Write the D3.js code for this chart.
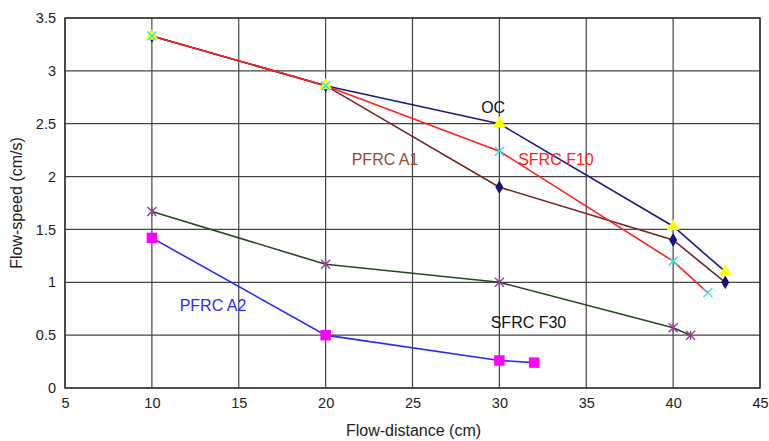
<!DOCTYPE html>
<html>
<head>
<meta charset="utf-8">
<script src="https://cdn.jsdelivr.net/npm/d3@7"></script>
<style>
  body { margin: 0; background: #fff; }
  text { font-family: "Liberation Sans", Arial, sans-serif; }
</style>
</head>
<body>
<div id="chart-area"></div>
<script>
// data
let xTicks = [5, 10, 15, 20, 25, 30, 35, 40, 45];
let yTicks = [0, 0.5, 1, 1.5, 2, 2.5, 3, 3.5];

let ocX = [10, 20, 30, 40, 43];
let ocY = [3.33, 2.86, 2.5, 1.53, 1.1];

let a1X = [10, 20, 30, 40, 43];
let a1Y = [3.33, 2.86, 1.9, 1.4, 1.0];

let f10X = [10, 20, 30, 40, 42];
let f10Y = [3.33, 2.86, 2.24, 1.2, 0.9];

let f30X = [10, 20, 30, 40, 41];
let f30Y = [1.67, 1.17, 1.0, 0.57, 0.5];

let a2X = [10, 20, 30, 32];
let a2Y = [1.42, 0.5, 0.26, 0.24];

let margin = { left: 65, right: 9, top: 18, bottom: 53 };
let width = 769 - margin.left - margin.right,
    height = 441 - margin.top - margin.bottom;

let svg = d3.select("#chart-area")
    .append("svg")
    .attr("width", 769)
    .attr("height", 441);

let g = svg.append("g")
    .attr("transform", "translate(" + margin.left + "," + margin.top + ")");

let x = d3.scaleLinear().domain([5, 45]).range([0, width]);
let y = d3.scaleLinear().domain([0, 3.5]).range([height, 0]);

// grid
g.selectAll(".vgrid").data(xTicks).enter()
    .append("line")
    .attr("x1", d => x(d)).attr("x2", d => x(d))
    .attr("y1", 0).attr("y2", height)
    .attr("stroke", "#444").attr("stroke-width", 1.2);

g.selectAll(".hgrid").data(yTicks).enter()
    .append("line")
    .attr("x1", 0).attr("x2", width)
    .attr("y1", d => y(d)).attr("y2", d => y(d))
    .attr("stroke", "#444").attr("stroke-width", 1.2);

g.append("rect")
    .attr("width", width).attr("height", height)
    .attr("fill", "none").attr("stroke", "#333").attr("stroke-width", 1.5);

// axes
let xAxisCall = d3.axisBottom(x).tickValues(xTicks).tickSize(0).tickPadding(10);
g.append("g")
    .attr("transform", "translate(0," + height + ")")
    .call(xAxisCall)
    .call(a => a.select(".domain").remove())
    .selectAll("text")
        .attr("font-size", "14.5px")
        .attr("fill", "#222");

let yAxisCall = d3.axisLeft(y).tickValues(yTicks).tickSize(0).tickPadding(9)
    .tickFormat(d => d);
g.append("g")
    .call(yAxisCall)
    .call(a => a.select(".domain").remove())
    .selectAll("text")
        .attr("font-size", "14.5px")
        .attr("fill", "#222");

// axis titles
g.append("text")
    .attr("x", width / 2 + 1)
    .attr("y", height + 48)
    .attr("text-anchor", "middle")
    .attr("font-size", "16px")
    .attr("fill", "#222")
    .text("Flow-distance (cm)");

g.append("text")
    .attr("transform", "rotate(-90)")
    .attr("x", -(height / 2))
    .attr("y", -43)
    .attr("text-anchor", "middle")
    .attr("font-size", "16px")
    .attr("fill", "#222")
    .text("Flow-speed (cm/s)");

function pts(xs, ys) {
    return xs.map((v, i) => ({ x: v, y: ys[i] }));
}

let line = d3.line().x(d => x(d.x)).y(d => y(d.y));

function drawLine(data, color) {
    g.append("path")
        .datum(data)
        .attr("fill", "none")
        .attr("stroke", color)
        .attr("stroke-width", 1.6)
        .attr("d", line);
}

let ocData = pts(ocX, ocY),
    a1Data = pts(a1X, a1Y),
    f10Data = pts(f10X, f10Y),
    f30Data = pts(f30X, f30Y),
    a2Data = pts(a2X, a2Y);

drawLine(ocData, "#1c1c84");
drawLine(a1Data, "#7a2222");
drawLine(f10Data, "#ff2020");
drawLine(f30Data, "#234a1e");
drawLine(a2Data, "#2a2aff");

// markers
function drawMarkers(data, type, color, size) {
    g.selectAll(null).data(data).enter()
        .append("path")
        .attr("transform", d => "translate(" + x(d.x) + "," + y(d.y) + ")")
        .attr("d", d3.symbol().type(type).size(size))
        .attr("fill", color);
}

function drawCross(data, color, r, star) {
    let gg = g.selectAll(null).data(data).enter()
        .append("g")
        .attr("transform", d => "translate(" + x(d.x) + "," + y(d.y) + ")");
    gg.append("path")
        .attr("d", "M" + (-r) + "," + (-r) + "L" + r + "," + r + "M" + (-r) + "," + r + "L" + r + "," + (-r) +
            (star ? "M0," + (-r) + "L0," + r : ""))
        .attr("stroke", color)
        .attr("stroke-width", 1.4)
        .attr("fill", "none");
}

drawMarkers(a1Data, d3.symbolDiamond, "#12127a", 55);
drawMarkers(a2Data, d3.symbolSquare, "#ff00ff", 110);
drawMarkers(ocData, d3.symbolTriangle, "#ffff00", 70);
drawCross(f10Data, "#33e6e6", 4.5, false);
drawCross(f30Data, "#9a3a9a", 4.5, true);

// labels
let labels = [
    { t: "OC", x: 28.95, y: 2.6, c: "#111" },
    { t: "SFRC F10", x: 31.08, y: 2.11, c: "#ff2020" },
    { t: "PFRC A1", x: 21.5, y: 2.11, c: "#9a4a2a" },
    { t: "PFRC A2", x: 11.6, y: 0.73, c: "#2a2aff" },
    { t: "SFRC F30", x: 29.5, y: 0.57, c: "#111" }
];

g.selectAll(".lbl").data(labels).enter()
    .append("text")
    .attr("x", d => x(d.x))
    .attr("y", d => y(d.y))
    .attr("font-size", "16px")
    .attr("fill", d => d.c)
    .text(d => d.t);
</script>
</body>
</html>
